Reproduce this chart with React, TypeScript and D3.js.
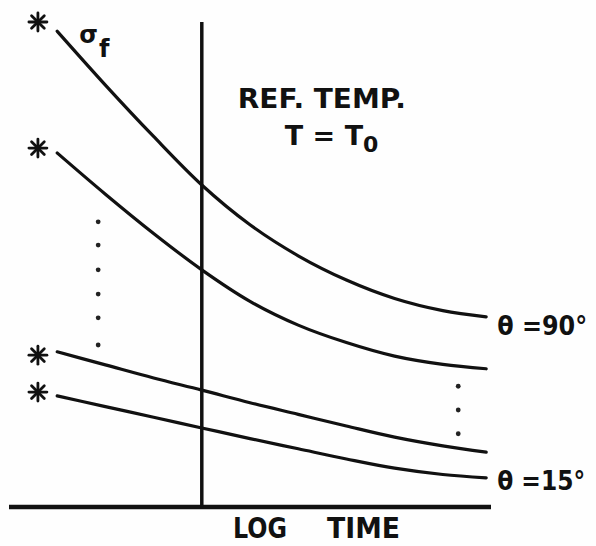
import { useEffect, useRef } from 'react';
import * as d3 from 'd3';

// log time (arbitrary units), shared by every curve
const logTime = [1, 2, 3, 4, 5, 6, 7, 8, 9, 9.9];

// fatigue strength sigma_f (arbitrary units), one list per fibre angle
const sigma90 = [9.81, 8.7, 7.64, 6.64, 5.82, 5.18, 4.68, 4.3, 4.05, 3.92];
const sigmaB = [7.3, 6.45, 5.64, 4.89, 4.24, 3.75, 3.39, 3.11, 2.94, 2.85];
const sigmaC = [3.2, 2.93, 2.66, 2.41, 2.15, 1.91, 1.67, 1.44, 1.26, 1.13];
const sigma15 = [2.29, 2.07, 1.85, 1.63, 1.41, 1.2, 0.99, 0.8, 0.67, 0.6];

// asterisks at the start of each curve
const starTime = 0.6;
const starSigma = [10.0, 7.4, 3.13, 2.37];

// dotted "more curves in between" marks
const leftDotTime = 1.85;
const leftDotSigma = [5.88, 5.4, 4.89, 4.39, 3.9, 3.34];
const rightDotTime = 9.32;
const rightDotSigma = [2.49, 2.0, 1.51];

const refTime = 4;
const sigmaMax = 10;
const timeMax = 10;

const App = () => {
    const svgRef = useRef<SVGSVGElement | null>(null);

    useEffect(() => {
        const svg = d3.select(svgRef.current);
        svg.selectAll('*').remove();

        const width = 596;
        const height = 546;
        const ink = '#111';
        const font = '"DejaVu Sans", sans-serif';

        svg.attr('width', width).attr('height', height);

        svg.append('rect')
            .attr('width', width)
            .attr('height', height)
            .attr('fill', '#fefefe');

        // Scales
        const x = d3.scaleLinear().domain([0, timeMax]).range([9, 491]);
        const y = d3.scaleLinear().domain([0, sigmaMax]).range([507, 22]);

        // Baseline (log time axis)
        svg.append('line')
            .attr('x1', x(0)).attr('x2', x(timeMax))
            .attr('y1', y(0)).attr('y2', y(0))
            .attr('stroke', ink)
            .attr('stroke-width', 4.5);

        // Reference temperature line
        svg.append('line')
            .attr('x1', x(refTime)).attr('x2', x(refTime))
            .attr('y1', y(0)).attr('y2', y(sigmaMax))
            .attr('stroke', ink)
            .attr('stroke-width', 3.5);

        // Curves
        const line = d3.line<number>()
            .x((d, i) => x(logTime[i]))
            .y(d => y(d))
            .curve(d3.curveMonotoneX);

        [sigma90, sigmaB, sigmaC, sigma15].forEach(series => {
            svg.append('path')
                .datum(series)
                .attr('fill', 'none')
                .attr('stroke', ink)
                .attr('stroke-width', 3.2)
                .attr('stroke-linecap', 'round')
                .attr('d', line);
        });

        // Asterisks
        const r = 9;
        starSigma.forEach(s => {
            const g = svg.append('g')
                .attr('transform', `translate(${x(starTime)},${y(s)})`);
            d3.range(4).forEach(k => {
                const a = (k * Math.PI) / 4;
                g.append('line')
                    .attr('x1', -r * Math.cos(a)).attr('y1', -r * Math.sin(a))
                    .attr('x2', r * Math.cos(a)).attr('y2', r * Math.sin(a))
                    .attr('stroke', ink)
                    .attr('stroke-width', 2.8)
                    .attr('stroke-linecap', 'round');
            });
            g.append('circle').attr('r', 3).attr('fill', ink);
        });

        // Dots
        const dots = [
            ...leftDotSigma.map(s => [leftDotTime, s]),
            ...rightDotSigma.map(s => [rightDotTime, s]),
        ];
        svg.selectAll('circle.dot')
            .data(dots)
            .join('circle')
            .attr('class', 'dot')
            .attr('cx', d => x(d[0]))
            .attr('cy', d => y(d[1]))
            .attr('r', 2.4)
            .attr('fill', '#222');

        // Labels
        const label = (tx: number, ty: number, size: number) =>
            svg.append('text')
                .attr('x', tx)
                .attr('y', ty)
                .attr('font-family', font)
                .attr('font-weight', 'bold')
                .attr('font-size', size)
                .attr('fill', ink);

        // sigma_f
        const sf = label(x(1) + 22, y(sigma90[0]) + 12, 24);
        sf.append('tspan').text('σ');
        sf.append('tspan').attr('font-size', 24).attr('dy', 14).attr('dx', 1).text('f');

        // reference temperature note
        label(x(refTime) + 36, 108, 27).text('REF. TEMP.')
            .attr('textLength', 168).attr('lengthAdjust', 'spacingAndGlyphs');
        const tt = label(x(refTime) + 83, 145, 27);
        tt.append('tspan').text('T = T');
        tt.append('tspan').attr('font-size', 22).attr('dy', 7).text('0');

        // angle labels
        const last = logTime.length - 1;
        label(x(logTime[last]) + 11, y(sigma90[last]) + 18, 26).text('θ =90°')
            .attr('textLength', 90).attr('lengthAdjust', 'spacingAndGlyphs');
        label(x(logTime[last]) + 11, y(sigma15[last]) + 12, 26).text('θ =15°')
            .attr('textLength', 88).attr('lengthAdjust', 'spacingAndGlyphs');

        // axis title
        label(233, 538, 28).text('LOG')
            .attr('textLength', 54).attr('lengthAdjust', 'spacingAndGlyphs');
        label(327, 538, 28).text('TIME')
            .attr('textLength', 73).attr('lengthAdjust', 'spacingAndGlyphs');
    }, []);

    return (
        <svg
            ref={svgRef}
            style={{ position: 'absolute', left: 0, top: 0, display: 'block' }}
        ></svg>
    );
};

export default App;
